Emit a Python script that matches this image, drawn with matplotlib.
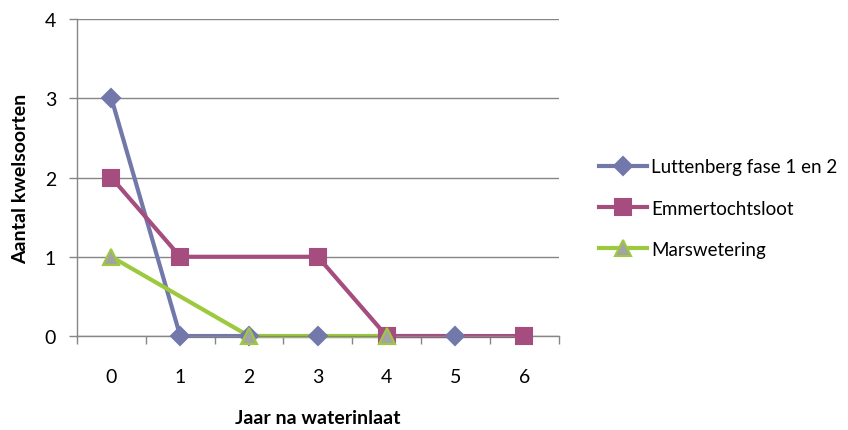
import numpy as np
import matplotlib.pyplot as plt
from matplotlib.ticker import FixedLocator

jaren = [0, 1, 2, 3, 4, 5, 6]
luttenberg = [3, 0, 0, 0, np.nan, 0, np.nan]
emmertochtsloot = [2, 1, np.nan, 1, 0, np.nan, 0]
marswetering = [1, np.nan, 0, np.nan, 0, np.nan, np.nan]

series = [
    ("Luttenberg fase 1 en 2", luttenberg, "#7378ab", "D", "#7378ab", "#7378ab", 9.5),
    ("Emmertochtsloot", emmertochtsloot, "#a54d7e", "s", "#a54d7e", "#a54d7e", 11),
    ("Marswetering", marswetering, "#9dc93e", "^", "#a3a3a3", "#9dc93e", 12),
]

plt.rcParams['font.family'] = ['Lato', 'DejaVu Sans']

fig = plt.figure(figsize=(8.48, 4.31), dpi=100)
ax = fig.add_axes([0.0908, 0.218, 0.568, 0.7356])

handles = []
for name, vals, kleur, marker, fill, rand, ms in series:
    x = np.array(jaren, dtype=float)
    y = np.array(vals, dtype=float)
    ok = ~np.isnan(y)
    ax.plot(x[ok], y[ok], color=kleur, lw=3, zorder=2, solid_capstyle='butt', clip_on=False)
    ax.plot(x[ok], y[ok], ls='none', marker=marker, ms=ms, markerfacecolor=fill,
            markeredgecolor=rand, markeredgewidth=1.5, zorder=3, clip_on=False)
    h, = ax.plot([], [], color=kleur, lw=3, marker=marker, ms=ms,
                 markerfacecolor=fill, markeredgecolor=rand, markeredgewidth=1.5)
    handles.append(h)

ax.set_xlim(-0.5, 6.5)
ax.set_ylim(0, 4)
ax.set_xticks(jaren)
ax.xaxis.set_minor_locator(FixedLocator(np.arange(-0.5, 7, 1)))
ax.set_yticks([0, 1, 2, 3, 4])
ax.tick_params(axis='x', which='major', length=0, pad=23, labelsize=14)
ax.tick_params(axis='x', which='minor', length=6, color='#868686', width=1)
ax.tick_params(axis='y', length=6, color='#868686', width=1, pad=9, labelsize=14)
ax.grid(axis='y', color='#868686', lw=1, zorder=0)
ax.set_axisbelow(True)
for s in ['top', 'right']:
    ax.spines[s].set_visible(False)
for s in ['left', 'bottom']:
    ax.spines[s].set_color('#868686')
    ax.spines[s].set_linewidth(1)

ax.set_xlabel("Jaar na waterinlaat", fontsize=14, fontweight='bold', labelpad=17)
ax.set_ylabel("Aantal kwelsoorten", fontsize=14, fontweight='bold', labelpad=11)

fig.legend(handles, [s[0] for s in series], loc='center left',
           bbox_to_anchor=(0.686, 0.515), frameon=False, fontsize=13.5,
           handlelength=2.6, labelspacing=1.3, handletextpad=0.2)

fig.savefig("out.png", dpi=100)
